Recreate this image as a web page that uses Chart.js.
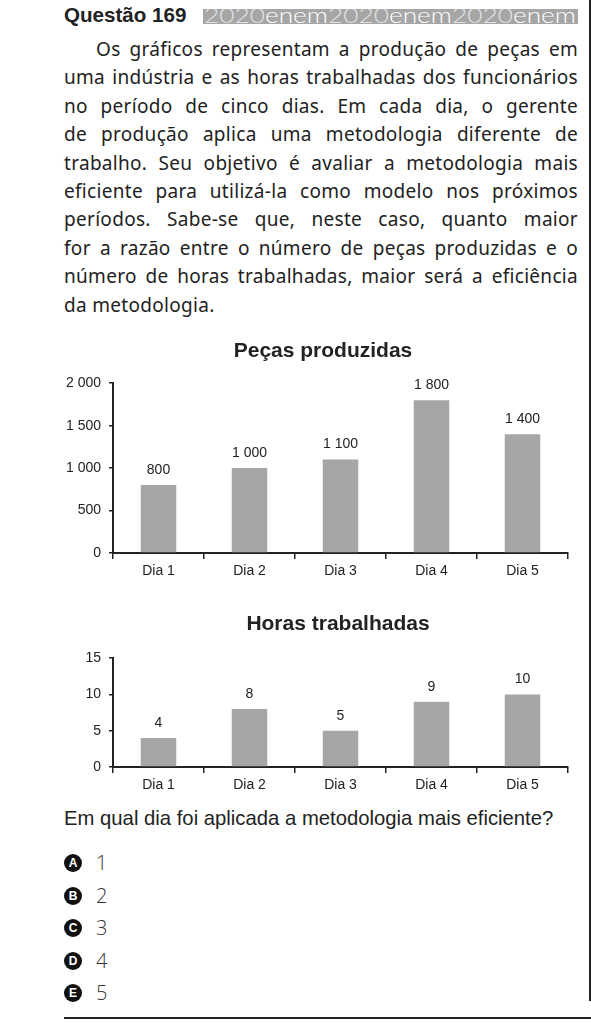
<!DOCTYPE html>
<html lang="pt-BR">
<head>
<meta charset="utf-8">
<title>Questão 169</title>
<script src="https://cdn.jsdelivr.net/npm/chart.js@4.4.0/dist/chart.umd.min.js"></script>
<style>
  html, body { margin: 0; padding: 0; background: #fff; }
  body { width: 591px; height: 1027px; position: relative; overflow: hidden;
         font-family: "Liberation Sans", Arial, sans-serif; color: #222; }
  .rule-right { position: absolute; left: 589px; top: 0; width: 2px; height: 1001px; background: #222; z-index: 2; }
  .rule-bottom { position: absolute; left: 64px; top: 1017px; width: 527px; height: 2px; background: #222; }
  #head { position: absolute; left: 64px; top: 5px; font-weight: bold; font-size: 20.6px; line-height: 20px; white-space: nowrap; }
  #banner { position: absolute; left: 203px; top: 9px; width: 375px; height: 15px; background: #a6a6a6; overflow: hidden; }
  #banner svg { display: block; }
  #text { position: absolute; left: 64px; top: 35px; width: 514px; font-family: "Noto Sans", sans-serif;
          font-size: 19px; line-height: 28.4px; letter-spacing: 0.3px; color: #222; }
  #text div { white-space: nowrap; }
  #text div.first { padding-left: 32px; }
  .box { position: absolute; }
  #pergunta { position: absolute; left: 64px; top: 807px; font-size: 20.3px; line-height: 22px; white-space: nowrap; }
  .opt { position: absolute; left: 64px; height: 22px; line-height: 22px; }
  .opt .dot { position: absolute; left: 0; top: 2px; width: 18px; height: 18px; border-radius: 50%; background: #111;
              color: #fff; font: bold 12px/18px "Liberation Sans", Arial, sans-serif; text-align: center; }
  .opt .num { position: absolute; left: 32px; top: 0; font-family: "Open Sans", sans-serif; font-weight: 300; font-size: 20px; color: #333; }
</style>
</head>
<body>
<div class="rule-right"></div>
<div class="rule-bottom"></div>

<div id="head">Questão 169</div>
<div id="banner">
  <svg width="375" height="15">
    <text x="1" y="14" font-family="Lato, sans-serif" font-weight="300" font-size="22" textLength="372" lengthAdjust="spacingAndGlyphs" fill="#fff"><tspan fill="#e2e2e2">2020</tspan>enem<tspan fill="#e2e2e2">2020</tspan>enem<tspan fill="#e2e2e2">2020</tspan>enem</text>
  </svg>
</div>

<div id="text">
  <div class="first"><span>Os gráficos representam a produção de peças em</span></div>
  <div><span>uma indústria e as horas trabalhadas dos funcionários</span></div>
  <div><span>no período de cinco dias. Em cada dia, o gerente</span></div>
  <div><span>de produção aplica uma metodologia diferente de</span></div>
  <div><span>trabalho. Seu objetivo é avaliar a metodologia mais</span></div>
  <div><span>eficiente para utilizá-la como modelo nos próximos</span></div>
  <div><span>períodos. Sabe-se que, neste caso, quanto maior</span></div>
  <div><span>for a razão entre o número de peças produzidas e o</span></div>
  <div><span>número de horas trabalhadas, maior será a eficiência</span></div>
  <div class="last"><span>da metodologia.</span></div>
</div>

<div class="box" style="left:40px; top:335px; width:566px; height:246px;"><canvas id="chartPecas"></canvas></div>
<div class="box" style="left:40px; top:605px; width:596px; height:190px;"><canvas id="chartHoras"></canvas></div>

<div id="pergunta">Em qual dia foi aplicada a metodologia mais eficiente?</div>
<div class="opt" style="top:852px;"><span class="dot">A</span><span class="num">1</span></div>
<div class="opt" style="top:885px;"><span class="dot">B</span><span class="num">2</span></div>
<div class="opt" style="top:917px;"><span class="dot">C</span><span class="num">3</span></div>
<div class="opt" style="top:950px;"><span class="dot">D</span><span class="num">4</span></div>
<div class="opt" style="top:982px;"><span class="dot">E</span><span class="num">5</span></div>

<script>
// dados
const dias = ['Dia 1', 'Dia 2', 'Dia 3', 'Dia 4', 'Dia 5'];
const pecas = [800, 1000, 1100, 1800, 1400];
const horas = [4, 8, 5, 9, 10];
const pecasEixo = [0, 2000, 500];   // min, max, passo
const horasEixo = [0, 15, 5];

const fonte = '"Liberation Sans", Arial, sans-serif';
const tinta = '#222';

// 1800 -> "1 800"
function fmt(v) {
    return String(v).replace(/\B(?=(\d{3})+(?!\d))/g, ' ');
}

// justifica cada linha do enunciado na largura da coluna
function justificar() {
    let largura = 514;
    document.querySelectorAll('#text div').forEach(linha => {
        if (linha.classList.contains('last')) return;
        let span = linha.querySelector('span');
        span.style.wordSpacing = '0px';
        let recuo = linha.classList.contains('first') ? 32 : 0;
        let espacos = (span.textContent.match(/ /g) || []).length;
        let sobra = largura - recuo - span.getBoundingClientRect().width;
        span.style.wordSpacing = (sobra / espacos) + 'px';
    });
}
justificar();
document.fonts.ready.then(justificar);

// escreve o valor acima de cada barra
const rotulos = {
    id: 'rotulos',
    afterDatasetsDraw(chart) {
        let ctx = chart.ctx;
        let meta = chart.getDatasetMeta(0);
        let valores = chart.data.datasets[0].data;
        ctx.save();
        ctx.font = '14px ' + fonte;
        ctx.fillStyle = tinta;
        ctx.textAlign = 'center';
        ctx.textBaseline = 'middle';
        meta.data.forEach((bar, i) => {
            ctx.fillText(fmt(valores[i]), bar.x, bar.y - 15);
        });
        ctx.restore();
    }
};

// folga: largura de um eixo vazio à direita, que desloca o centro do título
function grafico(id, titulo, valores, eixo, tituloPad, folga) {
    let ctx = document.getElementById(id).getContext('2d');
    return new Chart(ctx, {
        type: 'bar',
        data: {
            labels: dias,
            datasets: [{
                data: valores,
                backgroundColor: '#a6a6a6',
                borderWidth: 0,
                categoryPercentage: 1,
                barPercentage: 0.39
            }]
        },
        options: {
            responsive: true,
            maintainAspectRatio: false,
            animation: false,
            layout: { padding: 0 },
            plugins: {
                legend: { display: false },
                tooltip: { enabled: false },
                title: {
                    display: true,
                    text: titulo,
                    color: tinta,
                    font: { family: fonte, size: 21, weight: 'bold' },
                    padding: tituloPad
                }
            },
            scales: {
                x: {
                    grid: { offset: true, drawOnChartArea: false, drawTicks: true, tickLength: 6, color: tinta, lineWidth: 1.5 },
                    border: { color: tinta, width: 2 },
                    ticks: { color: tinta, font: { family: fonte, size: 14 }, padding: 4 },
                    afterFit(s) { s.height = 28; }
                },
                y: {
                    min: eixo[0],
                    max: eixo[1],
                    ticks: { stepSize: eixo[2], color: tinta, font: { family: fonte, size: 14 }, padding: 8,
                             callback: v => fmt(v) },
                    grid: { drawOnChartArea: false, drawTicks: true, tickLength: 4, color: tinta, lineWidth: 1.5 },
                    border: { color: tinta, width: 2 },
                    afterFit(s) { s.width = 73; }
                },
                vazio: {
                    position: 'right',
                    display: true,
                    ticks: { display: false },
                    grid: { display: false },
                    border: { display: false },
                    afterFit(s) { s.width = folga; }
                }
            }
        },
        plugins: [rotulos]
    });
}

grafico('chartPecas', 'Peças produzidas', pecas, pecasEixo, { top: 4, bottom: 19 }, 38);
grafico('chartHoras', 'Horas trabalhadas', horas, horasEixo, { top: 7, bottom: 21 }, 68);
</script>
</body>
</html>
